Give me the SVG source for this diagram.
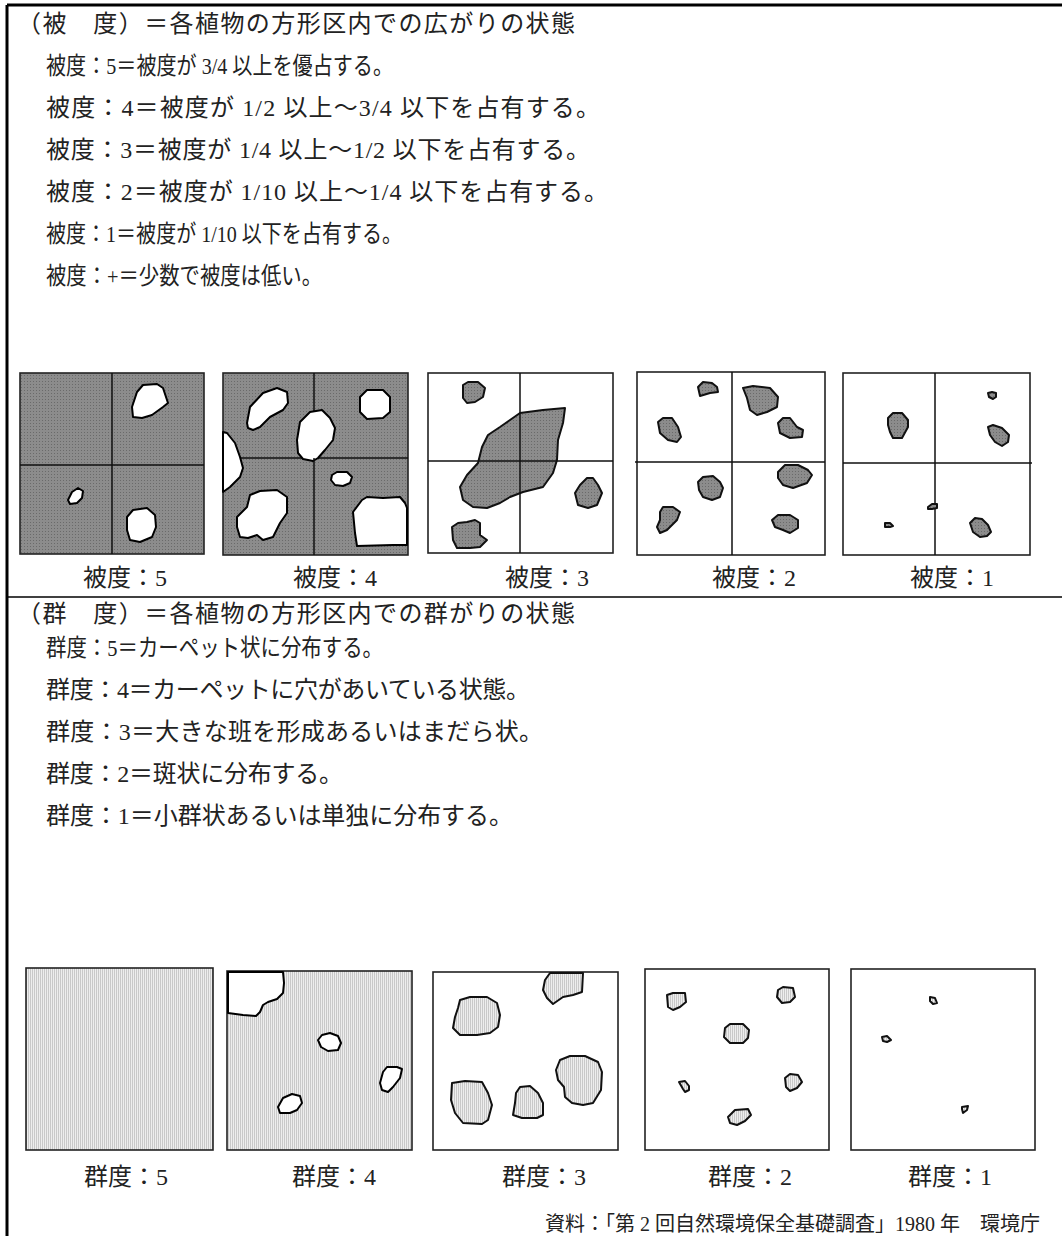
<svg xmlns="http://www.w3.org/2000/svg" width="1062" height="1236" viewBox="0 0 1062 1236">
<style>
text{font-family:"Liberation Serif","Noto Sans CJK JP",serif;fill:#222;}
.t{font-size:24px;}
.c{font-size:23.5px;}
.lb{font-size:24px;}
.src{font-size:20px;}
.frame{fill:none;stroke:#000;stroke-width:3;}
.sep{stroke:#000;stroke-width:1.5;}
.box{stroke:#222;stroke-width:1.6;}
.cross{stroke:#111;stroke-width:1.5;fill:none;}
.hole{fill:#fff;stroke:#000;stroke-width:2;stroke-linejoin:round;}
.dk{fill:url(#dark);stroke:#111;stroke-width:2;stroke-linejoin:round;}
.lt{fill:url(#light);stroke:#111;stroke-width:2;stroke-linejoin:round;}
</style>
<defs>
<pattern id="dark" width="3" height="3" patternUnits="userSpaceOnUse">
<rect width="3" height="3" fill="#8c8c8c"/>
<rect width="1" height="1" fill="#6a6a6a"/>
</pattern>
<pattern id="light" width="2" height="2" patternUnits="userSpaceOnUse">
<rect width="2" height="2" fill="#eeeeee"/>
<rect width="1" height="2" fill="#c9c9c9"/>
</pattern>
</defs>
<rect width="1062" height="1236" fill="#fff"/>
<g id="frame">
<line x1="7" y1="5" x2="1062" y2="5" class="frame"/>
<line x1="7" y1="5" x2="7" y2="1236" class="frame"/>
<line x1="7" y1="597" x2="1062" y2="597" class="sep"/>
</g>
<g id="cover-text">
<text class="t" x="17" y="32" textLength="558" lengthAdjust="spacing">（被　度）＝各植物の方形区内での広がりの状態</text>
<text class="c" x="46" y="74" textLength="347" lengthAdjust="spacingAndGlyphs">被度：5＝被度が 3/4 以上を優占する。</text>
<text class="t" x="46" y="116" textLength="554" lengthAdjust="spacing">被度：4＝被度が 1/2 以上～3/4 以下を占有する。</text>
<text class="t" x="46" y="158" textLength="544" lengthAdjust="spacing">被度：3＝被度が 1/4 以上～1/2 以下を占有する。</text>
<text class="t" x="46" y="200" textLength="562" lengthAdjust="spacing">被度：2＝被度が 1/10 以上～1/4 以下を占有する。</text>
<text class="c" x="46" y="242" textLength="356" lengthAdjust="spacingAndGlyphs">被度：1＝被度が 1/10 以下を占有する。</text>
<text class="c" x="46" y="284" textLength="276" lengthAdjust="spacingAndGlyphs">被度：+＝少数で被度は低い。</text>
</g>
<g id="cover5">
<rect class="box" x="20" y="373" width="184" height="181" fill="url(#dark)"/>
<path class="cross" d="M112 373V554M20 465H204"/>
<polygon class="hole" points="132,407 137,392 143,385 157,384 163,388 168,403 163,407 152,415 142,418 133,417"/>
<polygon class="hole" points="68,500 72,492 78,488 83,491 82,498 77,503 70,504"/>
<polygon class="hole" points="127,517 133,510 147,508 155,515 156,527 152,537 140,542 130,540 127,530"/>
<text class="lb" x="83" y="586">被度：5</text>
</g>
<g id="cover4">
<rect class="box" x="223" y="373" width="185" height="182" fill="url(#dark)"/>
<path class="cross" d="M314 373V555M223 458H408"/>
<polygon class="hole" points="247,423 250,407 263,393 277,388 287,392 288,403 283,410 270,417 260,427 253,430 248,428"/>
<polygon class="hole" points="360,397 367,390 383,390 390,397 390,412 383,418 367,419 360,412"/>
<polygon class="hole" points="297,440 300,422 310,412 322,410 330,418 335,428 333,440 325,450 318,458 313,461 303,459 298,453"/>
<polygon class="hole" points="223,432 227,433 235,443 240,457 243,468 240,477 230,487 223,492"/>
<polygon class="hole" points="332,475 337,472 347,472 352,477 350,483 343,486 335,485 331,480"/>
<polygon class="hole" points="237,517 247,507 250,495 260,491 277,490 287,497 287,513 280,523 273,537 263,540 257,535 248,538 240,537 237,527"/>
<polygon class="hole" points="353,512 362,500 367,497 383,498 400,497 405,503 407,508 407,545 393,545 357,546 355,533"/>
<path class="cross" d="M314 458V461"/>
<text class="lb" x="293" y="586">被度：4</text>
</g>
<g id="cover3">
<rect class="box" x="428" y="373" width="185" height="180" fill="#fff"/>
<polygon class="dk" points="463,385 468,382 478,382 485,388 483,397 475,402 467,403 463,398"/>
<polygon class="dk" points="460,487 467,475 478,463 482,447 488,435 500,427 510,420 520,413 543,410 565,408 563,423 558,440 557,460 553,473 543,487 523,492 510,497 500,503 487,508 473,507 463,500"/>
<polygon class="dk" points="575,493 580,485 587,478 593,478 598,485 602,493 597,505 588,508 578,505"/>
<polygon class="dk" points="452,527 458,523 467,522 475,520 480,523 480,535 487,540 480,547 470,548 457,548 453,540"/>
<path class="cross" d="M520 373V553M428 461H613"/>
<text class="lb" x="505" y="586">被度：3</text>
</g>
<g id="cover2">
<rect class="box" x="637" y="372" width="188" height="183" fill="#fff"/>
<path class="cross" d="M732 372V555M635 462H825"/>
<polygon class="dk" points="698,387 703,382 712,383 717,387 718,392 710,393 700,396"/>
<polygon class="dk" points="658,422 663,418 672,418 678,427 681,437 677,442 668,440 660,433"/>
<polygon class="dk" points="743,388 753,386 770,388 778,397 777,407 767,412 757,415 750,410 747,398"/>
<polygon class="dk" points="778,423 783,418 790,418 797,427 803,430 802,437 790,438 780,433"/>
<polygon class="dk" points="698,482 703,477 713,476 720,482 723,488 720,497 712,500 703,497 699,490"/>
<polygon class="dk" points="778,472 785,465 798,465 808,470 812,475 807,483 793,488 783,485 778,478"/>
<polygon class="dk" points="660,512 663,507 673,507 680,512 677,520 672,525 667,530 660,533 657,527 660,520"/>
<polygon class="dk" points="772,520 778,515 790,515 798,520 798,528 790,533 783,530 775,527"/>
<text class="lb" x="712" y="586">被度：2</text>
</g>
<g id="cover1">
<rect class="box" x="843" y="373" width="187" height="182" fill="#fff"/>
<path class="cross" d="M935 373V555M843 463H1032"/>
<polygon class="dk" points="888,418 893,413 902,413 908,420 908,427 902,438 893,438 890,432 888,425"/>
<polygon class="dk" points="988,393 992,392 996,393 996,397 993,399 989,397"/>
<polygon class="dk" points="988,427 993,425 1002,428 1009,435 1008,442 1002,446 995,442 990,435"/>
<polygon class="dk" points="928,507 932,504 937,504 937,508 932,509 928,509"/>
<polygon class="dk" points="885,523 890,523 893,526 890,527 885,527"/>
<polygon class="dk" points="970,523 975,518 982,519 988,525 991,532 987,536 980,537 973,532"/>
<text class="lb" x="910" y="586">被度：1</text>
</g>
<g id="group-text">
<text class="t" x="17" y="622" textLength="558" lengthAdjust="spacing">（群　度）＝各植物の方形区内での群がりの状態</text>
<text class="c" x="46" y="656" textLength="337" lengthAdjust="spacingAndGlyphs">群度：5＝カーペット状に分布する。</text>
<text class="t" x="46" y="698" textLength="484" lengthAdjust="spacing">群度：4＝カーペットに穴があいている状態。</text>
<text class="t" x="46" y="740" textLength="497" lengthAdjust="spacing">群度：3＝大きな班を形成あるいはまだら状。</text>
<text class="t" x="46" y="782" textLength="297" lengthAdjust="spacing">群度：2＝斑状に分布する。</text>
<text class="t" x="46" y="824" textLength="467" lengthAdjust="spacing">群度：1＝小群状あるいは単独に分布する。</text>
</g>
<g id="group5">
<rect class="box" x="26" y="968" width="187" height="182" fill="url(#light)"/>
<text class="lb" x="84" y="1185">群度：5</text>
</g>
<g id="group4">
<rect class="box" x="227" y="971" width="185" height="179" fill="url(#light)"/>
<polygon class="hole" points="228,972 283,972 284,983 283,993 277,999 268,1002 263,1005 260,1012 256,1016 243,1015 228,1013"/>
<polygon class="hole" points="318,1040 322,1035 330,1033 338,1036 341,1043 338,1050 328,1051 321,1047"/>
<polygon class="hole" points="380,1083 383,1072 387,1067 397,1067 402,1069 400,1078 393,1087 388,1092 382,1090"/>
<polygon class="hole" points="278,1107 283,1098 292,1094 300,1096 302,1103 297,1110 290,1113 280,1113"/>
<text class="lb" x="292" y="1185">群度：4</text>
</g>
<g id="group3">
<rect class="box" x="433" y="972" width="185" height="178" fill="#fff"/>
<polygon class="lt" points="550,973 583,973 582,992 573,995 563,997 553,1004 547,998 543,990 545,980"/>
<polygon class="lt" points="460,1000 470,997 487,997 497,1003 500,1015 498,1027 490,1033 477,1035 460,1035 453,1028 455,1017 458,1008"/>
<polygon class="lt" points="560,1060 570,1056 585,1056 598,1062 602,1072 601,1090 593,1103 583,1105 572,1103 565,1097 564,1087 558,1080 556,1070"/>
<polygon class="lt" points="452,1083 465,1081 482,1082 488,1093 492,1105 488,1120 482,1124 463,1123 455,1113 451,1100"/>
<polygon class="lt" points="516,1093 520,1087 530,1086 538,1093 543,1103 543,1115 537,1118 522,1118 513,1115 515,1103"/>
<text class="lb" x="502" y="1185">群度：3</text>
</g>
<g id="group2">
<rect class="box" x="645" y="969" width="184" height="181" fill="#fff"/>
<polygon class="lt" points="667,995 673,993 685,993 686,1002 680,1007 673,1010 668,1007"/>
<polygon class="lt" points="778,990 783,987 793,988 795,997 790,1002 782,1003 777,997"/>
<polygon class="lt" points="725,1028 730,1024 743,1024 749,1030 748,1038 743,1043 730,1043 724,1037"/>
<polygon class="lt" points="679,1082 685,1081 689,1086 689,1090 685,1092 683,1089"/>
<polygon class="lt" points="785,1078 790,1074 798,1075 802,1082 797,1088 790,1091 786,1087"/>
<polygon class="lt" points="728,1117 735,1110 748,1109 751,1115 745,1121 737,1125 730,1123"/>
<text class="lb" x="708" y="1185">群度：2</text>
</g>
<g id="group1">
<rect class="box" x="851" y="969" width="184" height="181" fill="#fff"/>
<polygon class="lt" points="930,997 935,998 937,1003 933,1004 930,1001"/>
<polygon class="lt" points="882,1037 887,1036 891,1040 887,1042 883,1041"/>
<polygon class="lt" points="962,1107 968,1106 967,1110 963,1113 962,1109"/>
<text class="lb" x="908" y="1185">群度：1</text>
</g>
<g id="source">
<text class="src" x="1040" y="1231" text-anchor="end">資料：「第 2 回自然環境保全基礎調査」1980 年　環境庁</text>
</g>
</svg>
